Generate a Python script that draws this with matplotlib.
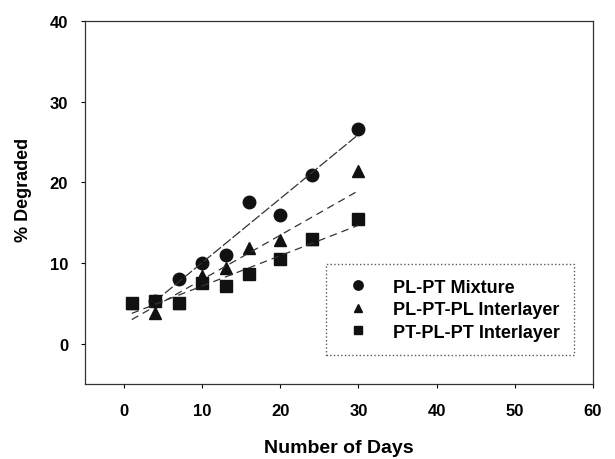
import matplotlib.pyplot as plt
import numpy as np

plt.rcParams['font.family'] = ['Liberation Sans', 'DejaVu Sans']
plt.rcParams['font.weight'] = 'bold'

# data (some points sit under other markers)
mix_days = [4, 7, 10, 13, 16, 20, 24, 30]
mix_deg = [5.3, 8.0, 10.0, 11.0, 17.6, 15.9, 20.9, 26.6]
plp_days = [1, 4, 7, 10, 13, 16, 20, 24, 30]
plp_deg = [5.0, 3.8, 5.0, 8.4, 9.4, 11.9, 12.9, 13.0, 21.4]
ptp_days = [1, 4, 7, 10, 13, 16, 20, 24, 30]
ptp_deg = [5.0, 5.3, 5.0, 7.5, 7.1, 8.7, 10.5, 13.0, 15.4]

labels = ["PL-PT Mixture", "PL-PT-PL Interlayer", "PT-PL-PT Interlayer"]

fig = plt.figure(figsize=(6.15, 4.6), dpi=100)
ax = fig.add_axes([0.138, 0.163, 0.826, 0.789])

series = [
    (mix_days, mix_deg, 'o', (8, 2)),
    (plp_days, plp_deg, '^', (6, 4)),
    (ptp_days, ptp_deg, 's', (6, 4)),
]
for (x, y, m, dash), lab in zip(series, labels):
    ax.plot(x, y, linestyle='none', marker=m, color='#111111',
            markersize=8 if m != 'o' else 9, label=lab)
    k, b = np.polyfit(x, y, 1)
    xs = np.array([min(x), max(x)])
    ax.plot(xs, k * xs + b, color='#333333', lw=0.9, dashes=dash)

ax.set_xlim(-5, 60)
ax.set_ylim(-5, 40)
ax.set_xticks([0, 10, 20, 30, 40, 50, 60])
ax.set_yticks([0, 10, 20, 30, 40])
ax.tick_params(direction='out', length=3, width=0.8, labelsize=12)
ax.tick_params(axis='x', pad=11)
ax.tick_params(axis='y', pad=9)
for s in ax.spines.values():
    s.set_linewidth(0.9)
    s.set_color('#333333')

ax.set_xlabel("Number of Days", fontsize=14, fontweight='bold', labelpad=15)
ax.set_ylabel("% Degraded", fontsize=13, fontweight='bold')
ax.yaxis.set_label_coords(-0.105, 0.537)

leg = ax.legend(loc='lower right', bbox_to_anchor=(0.963, 0.08), fontsize=13,
                frameon=True, fancybox=False, handletextpad=0.9,
                borderpad=0.8, borderaxespad=0, labelspacing=0.3,
                markerscale=0.75)
leg.get_frame().set_edgecolor('#333333')
leg.get_frame().set_linestyle(':')
leg.get_frame().set_linewidth(1.0)

fig.savefig('out.png', dpi=100)
